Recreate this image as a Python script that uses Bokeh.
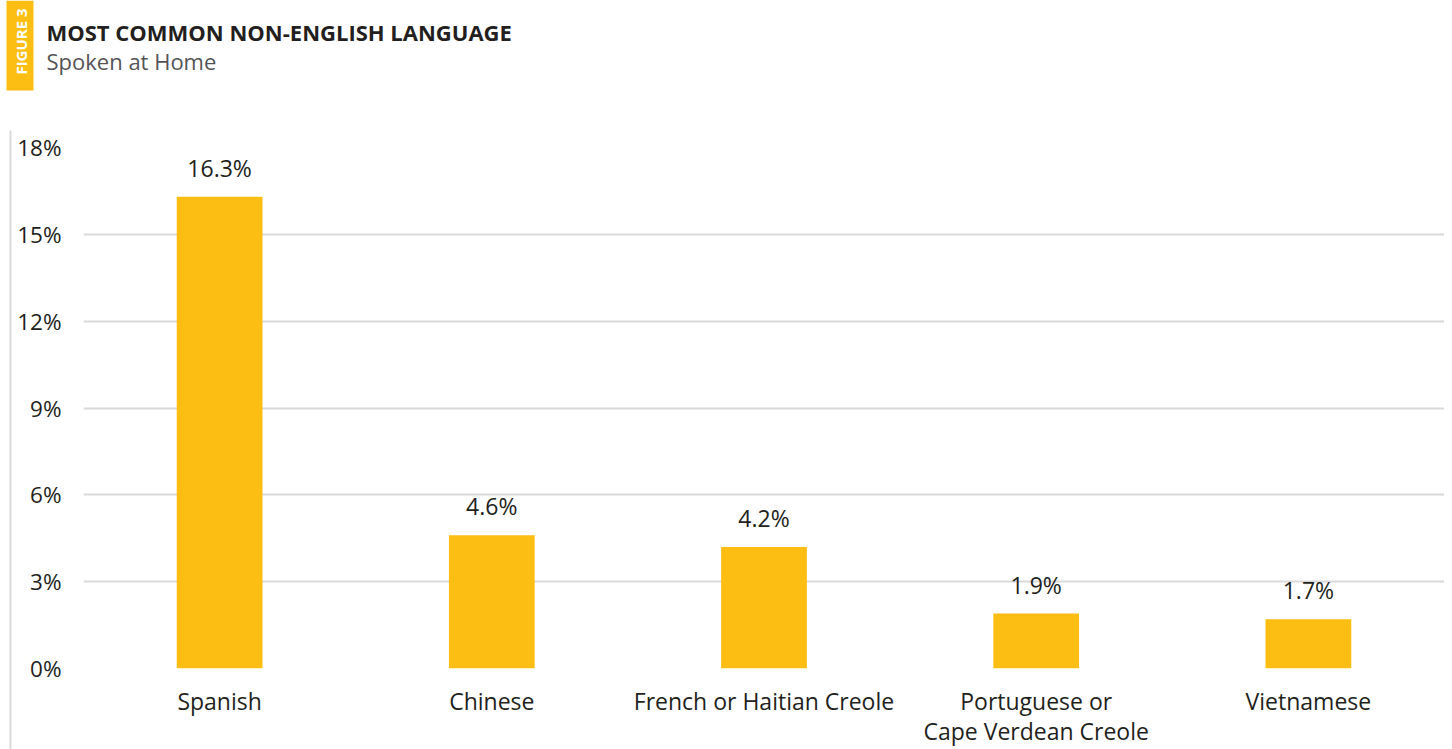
from bokeh.plotting import figure
from bokeh.layouts import column, row
from bokeh.models import (ColumnDataSource, FactorRange, FixedTicker, PrintfTickFormatter,
                          Range1d)
from bokeh.core.properties import value
from bokeh.embed import file_html
from bokeh.resources import INLINE
import math

languages = ["Spanish", "Chinese", "French or Haitian Creole",
             "Portuguese or\nCape Verdean Creole", "Vietnamese"]
shares = [16.3, 4.6, 4.2, 1.9, 1.7]
y_ticks = [0, 3, 6, 9, 12, 15, 18]

title_text = "MOST COMMON NON-ENGLISH LANGUAGE"
subtitle_text = "Spoken at Home"
badge_text = "FIGURE 3"

FONT = "Open Sans"
BAR = "#FDBE13"
DARK = "#231f20"
GREY_TXT = "#545456"
GRID = "#d9d9d9"

W, HEAD_H, STRIP_W = 1444, 100, 12
MAIN_H = 749 - HEAD_H


def blank(fig):
    fig.outline_line_color = None
    fig.background_fill_color = "white"
    fig.border_fill_color = "white"
    fig.xgrid.visible = False
    fig.ygrid.visible = False
    fig.frame_align = False


# ---- header (badge, title, subtitle) drawn in pixel-like coordinates ----
head = figure(width=W, height=HEAD_H, x_range=Range1d(0, W), y_range=Range1d(HEAD_H, 0),
              output_backend="svg", toolbar_location=None,
              x_axis_location=None, y_axis_location=None,
              min_border=0, min_border_left=0, min_border_right=0,
              min_border_top=0, min_border_bottom=0)
blank(head)
head.quad(left=[6], right=[33], top=[0], bottom=[90], color=BAR, line_color=None)
head.text(x=[20], y=[41], text=[badge_text], angle=math.pi / 2, text_align="center",
          text_baseline="middle", text_font=value(FONT), text_font_style="bold",
          text_font_size="15px", text_color="white")
head.text(x=[46], y=[31], text=[title_text], text_baseline="alphabetic",
          text_font=value(FONT), text_font_style="bold", text_font_size="22px",
          text_color=DARK)
head.text(x=[46], y=[60], text=[subtitle_text], text_baseline="alphabetic",
          text_font=value(FONT), text_font_size="22px", text_color=GREY_TXT)

# ---- left rule ----
strip = figure(width=STRIP_W, height=MAIN_H, x_range=Range1d(0, STRIP_W),
               y_range=Range1d(MAIN_H, 0), output_backend="svg", toolbar_location=None,
               x_axis_location=None, y_axis_location=None,
               min_border=0, min_border_left=0, min_border_right=0,
               min_border_top=0, min_border_bottom=0)
blank(strip)
strip.segment(x0=[10], y0=[30], x1=[10], y1=[MAIN_H], line_color=GRID, line_width=2)

# ---- main chart ----
src = ColumnDataSource(dict(lang=languages, share=shares,
                            label=[f"{v:.1f}%" for v in shares]))

p = figure(width=W - STRIP_W, height=MAIN_H, x_range=FactorRange(*languages, range_padding=0),
           y_range=(0, 18), output_backend="svg", toolbar_location=None,
           min_border_left=83 - STRIP_W, min_border_right=0,
           min_border_top=147 - HEAD_H, min_border_bottom=77)
p.outline_line_color = None
p.background_fill_color = "white"
p.border_fill_color = "white"
p.frame_align = False

p.vbar(x="lang", top="share", width=0.315, source=src, color=BAR, line_color=None)
p.text(x="lang", y="share", text="label", source=src, text_align="center",
       text_baseline="alphabetic", y_offset=-29, text_font=value(FONT),
       text_font_size="23px", text_color=DARK)

p.xgrid.grid_line_color = None
p.ygrid.grid_line_color = GRID
p.ygrid.grid_line_width = 2
p.yaxis.ticker = FixedTicker(ticks=y_ticks)
p.yaxis.formatter = PrintfTickFormatter(format="%d%%")
for ax in (p.xaxis[0], p.yaxis[0]):
    ax.axis_line_color = None
    ax.major_tick_line_color = None
    ax.minor_tick_line_color = None
    ax.major_tick_out = 0
    ax.major_tick_in = 0
    ax.major_label_text_font = FONT
    ax.major_label_text_color = DARK
p.yaxis.major_label_text_font_size = "22.5px"
p.xaxis.major_label_text_font_size = "23px"
p.xaxis.major_label_text_line_height = 0.95
p.yaxis.major_label_standoff = 22
p.xaxis.major_label_standoff = 16

layout = column(head, row(strip, p, spacing=0), spacing=0)

open("out.html", "w").write(file_html(layout, INLINE))
